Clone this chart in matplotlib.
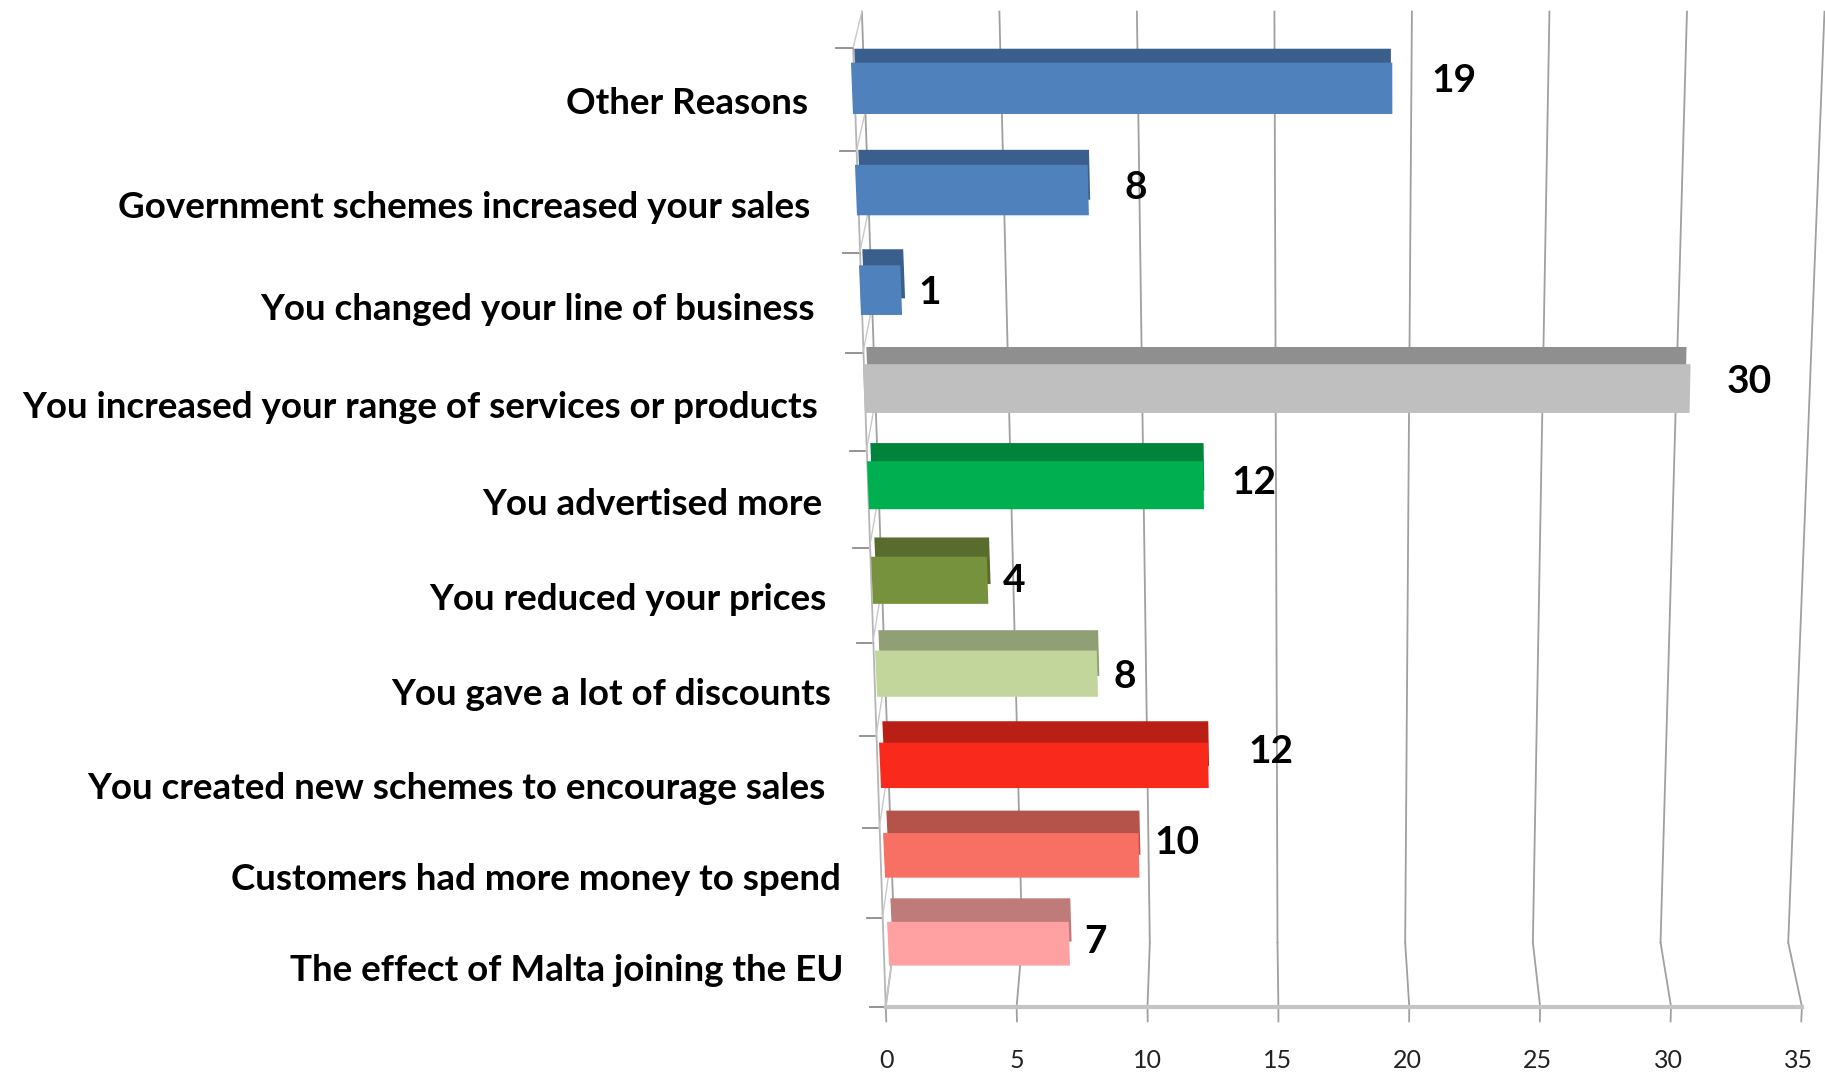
'''
Reasons for increased sales, Excel style 3D bar chart
'''
import numpy as np
import matplotlib
matplotlib.use('Agg')
import matplotlib.pyplot as plt
from matplotlib.transforms import Transform

# bottom bar first
categories = ['The effect of Malta joining the EU', 'Customers had more money to spend',
              'You created new schemes to encourage sales', 'You gave a lot of discounts',
              'You reduced your prices', 'You advertised more',
              'You increased your range of services or products', 'You changed your line of business',
              'Government schemes increased your sales', 'Other Reasons']
bar_lengths = [6.95, 9.7, 12.4, 8.3, 4.3, 12.4, 30.3, 1.5, 8.4, 19.4]
value_labels = ['7', '10', '12', '8', '4', '12', '30', '1', '8', '19']
axis_ticks = [0, 5, 10, 15, 20, 25, 30, 35]

face_colors = ['#FFA0A2', '#F87063', '#F92A1C', '#C2D69B', '#76923C', '#00B050',
               '#BFBFBF', '#4F81BD', '#4F81BD', '#4F81BD']
top_colors = ['#BF7A7A', '#B5524A', '#B91F14', '#919F74', '#586D2D', '#00843C',
              '#8F8F8F', '#3B5F8C', '#3B5F8C', '#3B5F8C']

# hand placed offsets, pixels
label_shift = [(26, 2), (38, 13), (63, 14), (27, -3), (27, 0), (50, 3),
               (59, 7), (28, -2), (47, 3), (62, 8)]
name_shift = [(1, -8), (2, -6), (-9, -6), (0, -5), (-1, -4), (-2, -5),
              (-3, -5), (-2, -6), (-3, -5), (-2, -4)]


def project(v, h, d, lean=0.0, shift=0.0):
    # v = axis value, h = height in category slots, d = depth 0 front .. 1 back
    x0 = 761 - 2.8 * h + 7.5 * d + lean * h + shift
    scale = 22.49 + 0.169 * h - 0.55 * d
    y = 865 - 75.2 * h - 0.72 * h * h - d * (55 - 2.4 * h)
    return x0 + v * scale, y


class Plane(Transform):
    # one of value/height/depth is held fixed, the other two come from the data
    input_dims = 2
    output_dims = 2

    def __init__(self, at_depth=None, at_height=None, at_value=None, lean=0.0, shift=0.0):
        super().__init__()
        self.at_depth, self.at_height, self.at_value = at_depth, at_height, at_value
        self.lean, self.shift = lean, shift

    def transform_non_affine(self, values):
        a, b = np.asarray(values, dtype=float).T
        if self.at_depth is not None:
            v, h, d = a, b, self.at_depth
        elif self.at_height is not None:
            v, d, h = a, b, self.at_height
        else:
            d, h, v = a, b, self.at_value
        return np.column_stack(project(v, h, d, self.lean, self.shift))


plt.rcParams['font.family'] = ['Lato', 'DejaVu Sans']
fig = plt.figure(figsize=(18.25, 10.74), dpi=100)
ax = fig.add_axes([0, 0, 1, 1])
ax.set_xlim(0, 1568)
ax.set_ylim(923, 0)
ax.axis('off')

front = Plane(at_depth=0) + ax.transData
back = Plane(at_depth=1) + ax.transData
floor = Plane(at_height=0) + ax.transData
side = Plane(at_value=0) + ax.transData

grid_color = '#A0A0A0'
for v in axis_ticks:
    ax.plot([v, v], [0, 1], color=grid_color, lw=1.3, transform=floor, zorder=1)
    ax.plot([v, v], [0, 10], color=grid_color, lw=1.3, transform=back, zorder=1)
    ax.plot([v, v], [0, -0.17], color=grid_color, lw=1.3, transform=front, zorder=1)
    ax.text(v - 0.05, -0.62, str(v), ha='center', va='center', fontsize=18, color='#222222', transform=front)

ax.plot([0, 35], [0, 0], color='#C4C4C4', lw=3, transform=front, zorder=2)
ax.plot([0, 0], [0, 10], color='#B5B5B5', lw=1.3, transform=front, zorder=1)
for h in range(11):
    ax.plot([-0.6, 0], [h, h], color='#8C8C8C', lw=1.3, transform=front, zorder=1)
    ax.plot([0, 1], [h, h], color='#C8C8C8', lw=1.0, transform=side, zorder=1)

pos = np.arange(len(categories)) + 0.5
bar_front = Plane(at_depth=0.3, lean=-0.644, shift=1.47) + ax.transData
bar_back = Plane(at_depth=0.68, lean=-0.644, shift=1.47) + ax.transData
ax.barh(pos, bar_lengths, height=0.5, color=top_colors, transform=bar_back, zorder=3)
ax.barh(pos, bar_lengths, height=0.5, color=face_colors, transform=bar_front, zorder=4)

for p, name, shift in zip(pos, categories, name_shift):
    ax.annotate(name, xy=(-1.6, p), xycoords=front, xytext=shift, textcoords='offset pixels',
                ha='right', va='center', fontsize=26.5, fontweight='bold', color='black', zorder=5)

for p, length, text, shift in zip(pos, bar_lengths, value_labels, label_shift):
    ax.annotate(text, xy=(length, p), xycoords=bar_front, xytext=shift,
                textcoords='offset pixels', ha='center', va='center',
                fontsize=28, fontweight='bold', color='black', zorder=5)

fig.savefig('out.png', dpi=100)
